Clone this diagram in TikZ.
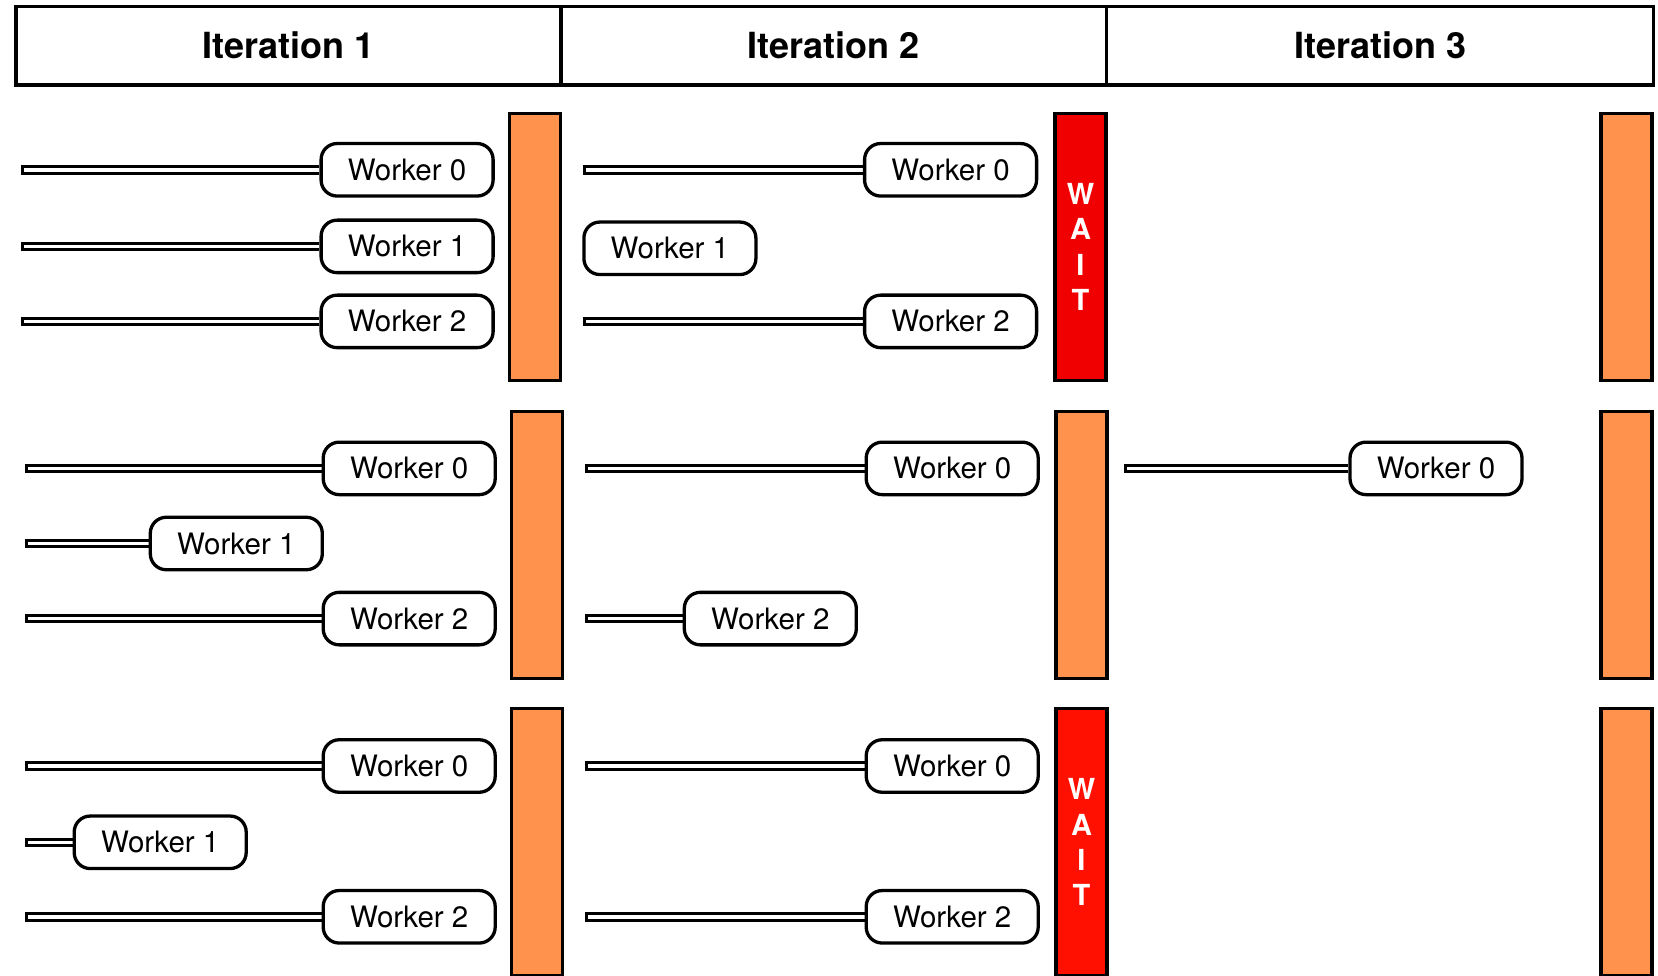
\documentclass[tikz,border=0pt]{standalone}
\usepackage{fontspec}
\setmainfont{TeX Gyre Heros}
\usetikzlibrary{backgrounds}
\definecolor{barorange}{RGB}{255,146,77}
\definecolor{waitred}{RGB}{240,0,0}
\definecolor{waitredb}{RGB}{255,16,0}

\begin{document}
\begin{tikzpicture}[x=1pt,y=-1pt,
  head/.style={draw, line width=3.3pt, minimum height=78.7pt, inner sep=0pt,
    font=\bfseries\fontsize{36}{43}\selectfont},
  worker/.style={draw, line width=3.3pt, fill=white, rounded corners=16pt,
    minimum width=172pt, minimum height=52.5pt, inner sep=0pt,
    font=\fontsize{29.5}{35}\selectfont},
  bar/.style={draw, line width=3.3pt, fill=barorange,
    minimum width=51pt, minimum height=267pt, inner sep=0pt},
  waitbar/.style={bar, fill=#1, text=white, align=center,
    font=\bfseries\fontsize{29}{35.3}\selectfont},
  tube/.style={line width=9.6pt, draw=black,
    postaction={draw=white, line width=3.6pt, shorten <=3pt}}
]
\useasboundingbox (0,0) rectangle (1658,976);
\clip (0,0) rectangle (1658,976);

% column headers
\node[head, minimum width=545pt] (h1) at (288.5,45.7) {Iteration 1};
\node[head, minimum width=545.7pt] (h2) at (833.85,45.7) {Iteration 2};
\node[head, minimum width=547pt] (h3) at (1380.2,45.7) {Iteration 3};

% left ends of the progress tubes
\coordinate (L1) at (21,0);
\coordinate (L2) at (24.5,0);
\coordinate (M1) at (582.6,0);
\coordinate (M2) at (584.7,0);
\coordinate (R2) at (1124,0);

% ---- first scenario ----
\node[bar] (b11) at (535,247) {};
\node[waitbar=waitred] (b12) at (1080.5,247) {W\\A\\I\\T};
\node[bar] (b13) at (1626.5,247) {};
\node[worker] (w110) at (407.1,169.8) {Worker 0};
\node[worker] (w111) at (407.1,246.4) {Worker 1};
\node[worker] (w112) at (407.1,321.4) {Worker 2};
\node[worker] (w120) at (950.6,169.8) {Worker 0};
\node[worker] (w121) at (669.9,248.3) {Worker 1};
\node[worker] (w122) at (950.6,321.4) {Worker 2};

% ---- second scenario ----
\node[bar] (b21) at (537.2,544.7) {};
\node[bar] (b22) at (1081.5,544.7) {};
\node[bar] (b23) at (1626.5,544.7) {};
\node[worker] (w210) at (409.2,468.4) {Worker 0};
\node[worker] (w211) at (236.3,543.5) {Worker 1};
\node[worker] (w212) at (409.2,618.6) {Worker 2};
\node[worker] (w220) at (952.2,468.4) {Worker 0};
\node[worker] (w222) at (770.3,618.6) {Worker 2};
\node[worker] (w230) at (1436,468.4) {Worker 0};

% ---- third scenario ----
\node[bar] (b31) at (537.2,842.3) {};
\node[waitbar=waitredb] (b32) at (1081.5,842.3) {W\\A\\I\\T};
\node[bar] (b33) at (1626.5,842.3) {};
\node[worker] (w310) at (409.2,766) {Worker 0};
\node[worker] (w311) at (160.2,842.3) {Worker 1};
\node[worker] (w312) at (409.2,916.8) {Worker 2};
\node[worker] (w320) at (952.2,766) {Worker 0};
\node[worker] (w322) at (952.2,916.8) {Worker 2};

% progress tubes behind the worker boxes
\begin{pgfonlayer}{background}
  \foreach \w in {w110,w111,w112} \draw[tube] (\w.west -| L1) -- (\w.west);
  \foreach \w in {w120,w122} \draw[tube] (\w.west -| M1) -- (\w.west);
  \foreach \w in {w210,w211,w212,w310,w311,w312} \draw[tube] (\w.west -| L2) -- (\w.west);
  \foreach \w in {w220,w222,w320,w322} \draw[tube] (\w.west -| M2) -- (\w.west);
  \draw[tube] (w230.west -| R2) -- (w230.west);
\end{pgfonlayer}
\end{tikzpicture}
\end{document}
